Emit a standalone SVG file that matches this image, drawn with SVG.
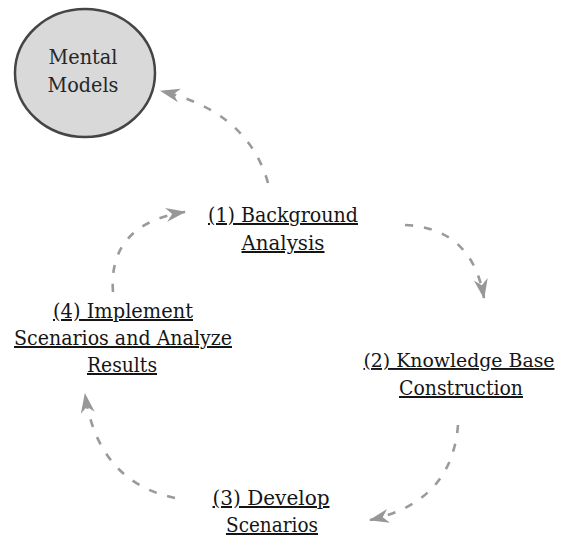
<svg xmlns="http://www.w3.org/2000/svg" width="565" height="540" viewBox="0 0 565 540">
  <style>
    text { font-family: "DejaVu Serif", "Liberation Serif", serif; }
    .lbl { font-size: 20px; fill: #151515; text-anchor: middle; text-decoration: underline; }
    .node-text { font-size: 21px; fill: #262626; text-anchor: middle; }
    .flow { fill: none; stroke: #9a9a9a; stroke-width: 2.6; stroke-dasharray: 8 11; stroke-linecap: butt; }
  </style>
  <defs>
    <marker id="head" viewBox="0 0 20 16" refX="19" refY="8" markerWidth="20" markerHeight="16" markerUnits="userSpaceOnUse" orient="auto">
      <path d="M0,1 L20,8 L0,15 L6,8 Z" fill="#979797"/>
    </marker>
  </defs>
  <rect width="565" height="540" fill="#ffffff"/>

  <!-- connectors -->
  <g id="connectors">
    <path class="flow" d="M268,183 Q248,112 161,91" marker-end="url(#head)"/>
    <path class="flow" d="M405,225 Q472,228 484,298" marker-end="url(#head)"/>
    <path class="flow" d="M458,425 Q452,502 370,520" marker-end="url(#head)"/>
    <path class="flow" d="M175,498 Q98,482 85,394" marker-end="url(#head)"/>
    <path class="flow" d="M113,292 Q108,224 185,212" marker-end="url(#head)"/>
  </g>

  <!-- Mental Models -->
  <g id="mental-models">
    <ellipse cx="85" cy="73" rx="70" ry="64" fill="#d9d9d9" stroke="#454545" stroke-width="2.5"/>
    <text class="node-text" x="83" y="64" textLength="69" lengthAdjust="spacingAndGlyphs">Mental</text>
    <text class="node-text" x="83" y="92" textLength="71" lengthAdjust="spacingAndGlyphs">Models</text>
  </g>

  <!-- (1) Background Analysis -->
  <g id="step-1">
    <text class="lbl" x="283" y="222" textLength="150" lengthAdjust="spacingAndGlyphs">(1) Background</text>
    <text class="lbl" x="283" y="250" textLength="83" lengthAdjust="spacingAndGlyphs">Analysis</text>
  </g>

  <!-- (2) Knowledge Base Construction -->
  <g id="step-2">
    <text class="lbl" x="459" y="367" font-size="19" style="font-size:19px" textLength="191" lengthAdjust="spacingAndGlyphs">(2) Knowledge Base</text>
    <text class="lbl" x="461" y="395" textLength="124" lengthAdjust="spacingAndGlyphs">Construction</text>
  </g>

  <!-- (3) Develop Scenarios -->
  <g id="step-3">
    <text class="lbl" x="271" y="505" textLength="117" lengthAdjust="spacingAndGlyphs">(3) Develop</text>
    <text class="lbl" x="272" y="532" textLength="92" lengthAdjust="spacingAndGlyphs">Scenarios</text>
  </g>

  <!-- (4) Implement Scenarios and Analyze Results -->
  <g id="step-4">
    <text class="lbl" x="123" y="318" textLength="140" lengthAdjust="spacingAndGlyphs">(4) Implement</text>
    <text class="lbl" x="123" y="345" textLength="218" lengthAdjust="spacingAndGlyphs">Scenarios and Analyze</text>
    <text class="lbl" x="122" y="372" textLength="70" lengthAdjust="spacingAndGlyphs">Results</text>
  </g>
</svg>
